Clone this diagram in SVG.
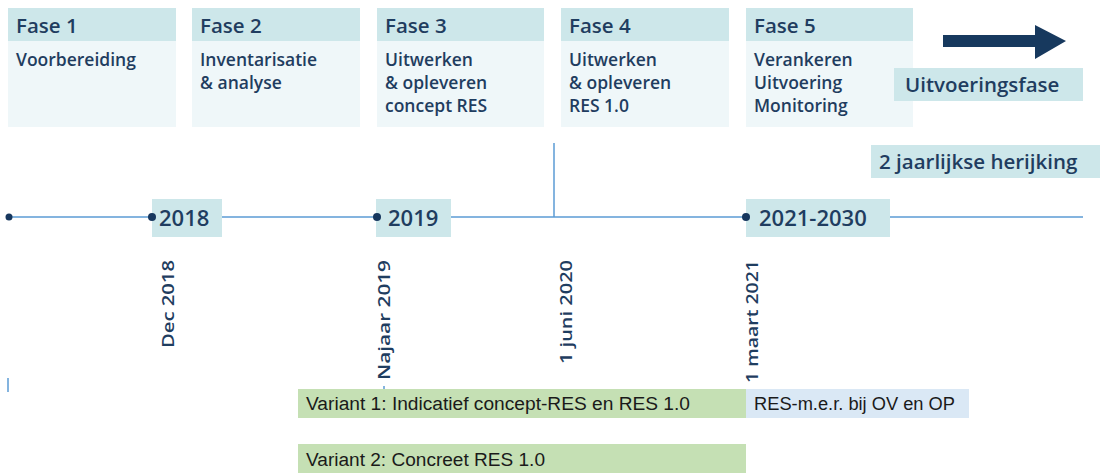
<svg xmlns="http://www.w3.org/2000/svg" width="1100" height="473" viewBox="0 0 1100 473">
<style>
.hd{fill:#cde7ea}
.bd{fill:#eff7f9}
.t{font-family:"Open Sans",Lato,sans-serif;font-weight:600;fill:#1f3d60}
.h{font-size:20.5px}
.b{font-size:17.5px}
.y{font-size:22px}
.r{font-size:17px}
.v{font-family:"Liberation Sans",Arial,sans-serif;font-size:18px;fill:#1a1a1a}
.ln{stroke:#5b9bd5;stroke-width:1.5;fill:none}
.dot{fill:#17375e}
</style>
<rect width="1100" height="473" fill="#fff"/>
<g id="fase1">
<rect class="hd" x="8" y="8" width="168" height="33"/>
<rect class="bd" x="8" y="41" width="168" height="86"/>
<text class="t h" x="16" y="33">Fase 1</text>
<text class="t b" x="16" y="66">Voorbereiding</text>
</g>
<g id="fase2">
<rect class="hd" x="192" y="8" width="168" height="33"/>
<rect class="bd" x="192" y="41" width="168" height="86"/>
<text class="t h" x="200" y="33">Fase 2</text>
<text class="t b" x="200" y="66">Inventarisatie</text>
<text class="t b" x="200" y="89">&amp; analyse</text>
</g>
<g id="fase3">
<rect class="hd" x="377" y="8" width="167" height="33"/>
<rect class="bd" x="377" y="41" width="167" height="86"/>
<text class="t h" x="385" y="33">Fase 3</text>
<text class="t b" x="385" y="66">Uitwerken</text>
<text class="t b" x="385" y="89">&amp; opleveren</text>
<text class="t b" x="385" y="112">concept RES</text>
</g>
<g id="fase4">
<rect class="hd" x="561" y="8" width="168" height="33"/>
<rect class="bd" x="561" y="41" width="168" height="86"/>
<text class="t h" x="569" y="33">Fase 4</text>
<text class="t b" x="569" y="66">Uitwerken</text>
<text class="t b" x="569" y="89">&amp; opleveren</text>
<text class="t b" x="569" y="112">RES 1.0</text>
</g>
<g id="fase5">
<rect class="hd" x="746" y="8" width="167" height="33"/>
<rect class="bd" x="746" y="41" width="167" height="86"/>
<text class="t h" x="754" y="33">Fase 5</text>
<text class="t b" x="754" y="66">Verankeren</text>
<text class="t b" x="754" y="89">Uitvoering</text>
<text class="t b" x="754" y="112">Monitoring</text>
</g>
<g id="arrow">
<polygon fill="#17395e" points="943,35 1035,35 1035,25 1066,41 1035,59 1035,47 943,47"/>
</g>
<g id="uitvoeringsfase">
<rect class="hd" x="894" y="68" width="189" height="33"/>
<text class="t h" x="905" y="92">Uitvoeringsfase</text>
</g>
<g id="herijking">
<rect class="hd" x="871" y="145" width="229" height="33"/>
<text class="t h" x="879" y="169">2 jaarlijkse herijking</text>
</g>
<g id="connectors">
<line class="ln" x1="8" y1="217" x2="1083" y2="217"/>
<line class="ln" x1="554" y1="143" x2="554" y2="217"/>
<line class="ln" x1="8" y1="378" x2="8" y2="392"/>
<line class="ln" x1="384" y1="386" x2="384" y2="392"/>
<circle class="dot" cx="9" cy="217" r="3.5"/>
</g>
<g id="y2018">
<rect class="hd" x="152" y="199" width="70" height="38"/>
<circle class="dot" cx="152" cy="217" r="4"/>
<text class="t y" x="159" y="226">2018</text>
</g>
<g id="y2019">
<rect class="hd" x="376" y="199" width="75" height="38"/>
<circle class="dot" cx="377" cy="217" r="4"/>
<text class="t y" x="388" y="226">2019</text>
</g>
<g id="y2021">
<rect class="hd" x="746" y="199" width="144" height="38"/>
<circle class="dot" cx="746" cy="217" r="4"/>
<text class="t y" x="759" y="226">2021-2030</text>
</g>
<g id="dates">
<text class="t r" transform="translate(174,348) rotate(-90)" textLength="88" lengthAdjust="spacingAndGlyphs">Dec 2018</text>
<text class="t r" transform="translate(390,380) rotate(-90)" textLength="120" lengthAdjust="spacingAndGlyphs">Najaar 2019</text>
<text class="t r" transform="translate(572,364) rotate(-90)" textLength="104" lengthAdjust="spacingAndGlyphs">1 juni 2020</text>
<text class="t r" transform="translate(758,383) rotate(-90)" textLength="123" lengthAdjust="spacingAndGlyphs">1 maart 2021</text>
</g>
<g id="variant1">
<rect fill="#c5e0b4" x="298" y="389" width="448" height="29"/>
<text class="v" x="306" y="410" textLength="384" lengthAdjust="spacingAndGlyphs">Variant 1: Indicatief concept-RES en RES 1.0</text>
</g>
<g id="resmer">
<rect fill="#dae8f5" x="746" y="389" width="223" height="29"/>
<text class="v" x="754" y="410" textLength="201" lengthAdjust="spacingAndGlyphs">RES-m.e.r. bij OV en OP</text>
</g>
<g id="variant2">
<rect fill="#c5e0b4" x="298" y="444" width="448" height="29"/>
<text class="v" x="306" y="466" textLength="239" lengthAdjust="spacingAndGlyphs">Variant 2: Concreet RES 1.0</text>
</g>
</svg>
